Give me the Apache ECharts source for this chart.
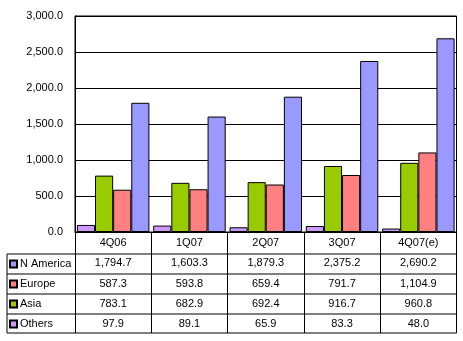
<!DOCTYPE html>
<html>
<head>
<meta charset="utf-8">
<script src="https://cdn.jsdelivr.net/npm/echarts@6/dist/echarts.min.js"></script>
<style>
  html, body { margin: 0; padding: 0; background: #fff; }
  #chart { width: 463px; height: 341px; }
</style>
</head>
<body>
<div id="chart"></div>
<script>
// Quarterly shipments by region
const quarters = ['4Q06', '1Q07', '2Q07', '3Q07', '4Q07(e)'];
const nAmerica = [1794.7, 1603.3, 1879.3, 2375.2, 2690.2];
const europe   = [587.3, 593.8, 659.4, 791.7, 1104.9];
const asia     = [783.1, 682.9, 692.4, 916.7, 960.8];
const others   = [97.9, 89.1, 65.9, 83.3, 48.0];
const yTicks   = [0, 500, 1000, 1500, 2000, 2500, 3000];

const FONT = 'Liberation Sans, Arial, sans-serif';

function fmt(v) {
  const parts = v.toFixed(1).split('.');
  parts[0] = parts[0].replace(/\B(?=(\d{3})+(?!\d))/g, ',');
  return parts.join('.');
}

const chart = echarts.init(document.getElementById('chart'), null, { renderer: 'canvas' });

// grid edges; the data table hangs below the plot
const G = { left: 75, right: 456.5, top: 16, bottom: 232 };
const ROW = 20;
const tableBottom = 333;

const seriesDefs = [
  { name: 'Others',    data: others,   color: '#CC99FF' },
  { name: 'Asia',      data: asia,     color: '#99CC00' },
  { name: 'Europe',    data: europe,   color: '#FF8080' },
  { name: 'N America', data: nAmerica, color: '#9999FF' }
];

const rowLines = [254, 274, 294, 314, 333].map(y => ({
  type: 'line',
  shape: { x1: 7, y1: y, x2: G.right, y2: y },
  style: { stroke: '#000', lineWidth: 1 },
  silent: true
}));

chart.setOption({
  animation: false,
  backgroundColor: '#fff',
  textStyle: { fontFamily: FONT },
  grid: {
    left: G.left, top: G.top,
    right: 463 - G.right, bottom: 341 - G.bottom,
    show: true, borderColor: '#000', borderWidth: 1, containLabel: false
  },
  legend: {
    orient: 'vertical',
    left: 9, top: 254,
    padding: 0,
    itemGap: 0,
    itemWidth: 7, itemHeight: 7,
    icon: 'rect',
    selectedMode: false,
    data: ['N America', 'Europe', 'Asia', 'Others'],
    textStyle: { fontFamily: FONT, fontSize: 11, color: '#000', lineHeight: ROW, padding: [0, 0, 0, -2] }
  },
  xAxis: {
    type: 'category',
    data: quarters,
    boundaryGap: true,
    axisLine: { show: true, lineStyle: { color: '#000', width: 1 } },
    axisTick: { show: true, length: tableBottom - G.bottom, inside: false, lineStyle: { color: '#000', width: 1 } },
    axisLabel: {
      margin: 1,
      color: '#000',
      fontFamily: FONT,
      fontSize: 11,
      lineHeight: 20.2,
      interval: 0,
      formatter: function (val, idx) {
        return [val, fmt(nAmerica[idx]), fmt(europe[idx]), fmt(asia[idx]), fmt(others[idx])].join('\n');
      }
    }
  },
  yAxis: {
    type: 'value',
    min: yTicks[0], max: yTicks[yTicks.length - 1], interval: 500,
    axisLine: { show: true, lineStyle: { color: '#000', width: 1 } },
    axisTick: { show: false },
    splitLine: { show: true, lineStyle: { color: '#000', width: 1 } },
    axisLabel: {
      margin: 12, color: '#000', fontFamily: FONT, fontSize: 11,
      formatter: v => fmt(v)
    }
  },
  series: seriesDefs.map(s => ({
    name: s.name,
    type: 'bar',
    data: s.data,
    barGap: '0%',
    barCategoryGap: '5%',
    itemStyle: { color: s.color, borderColor: '#000', borderWidth: 1 }
  })),
  graphic: rowLines.concat([
    {
      type: 'line',
      shape: { x1: 7, y1: 254, x2: 7, y2: tableBottom },
      style: { stroke: '#000', lineWidth: 1 },
      silent: true
    }
  ])
});
</script>
</body>
</html>
